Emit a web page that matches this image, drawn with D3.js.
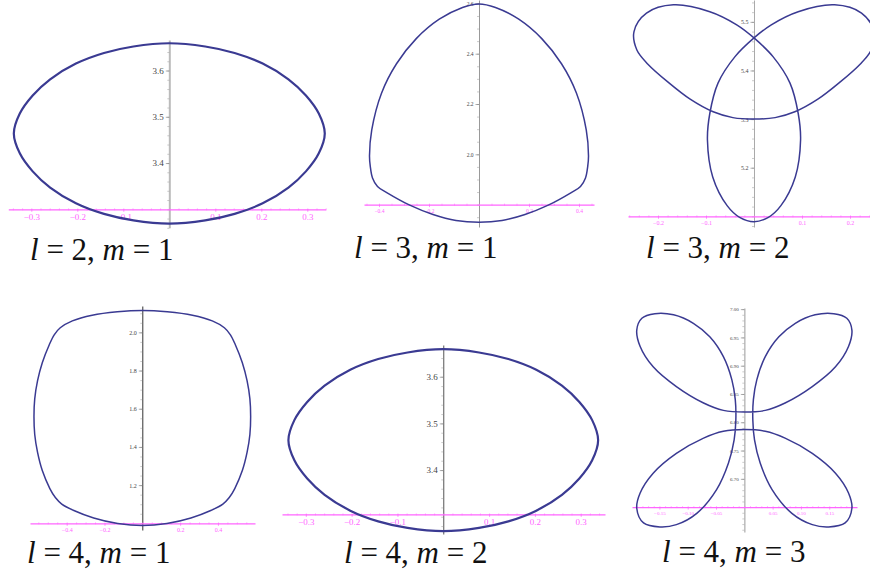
<!DOCTYPE html>
<meta charset="utf-8">
<script src="https://cdn.jsdelivr.net/npm/d3@7"></script>
<style>
  body { margin: 0; background: #fff; }
  text { font-family: "Liberation Serif", "Times New Roman", serif; }
</style>
<div id="chart"></div>
<script>
// curve points, [x, y]
const curveL2M1 = [[-0.338,3.464],[-0.325,3.507],[-0.297,3.546],[-0.259,3.581],[-0.203,3.615],[-0.142,3.638],[-0.078,3.652],[0,3.659],
  [0.078,3.652],[0.142,3.638],[0.203,3.615],[0.259,3.581],[0.297,3.546],[0.325,3.507],[0.338,3.464],
  [0.325,3.421],[0.297,3.382],[0.259,3.347],[0.203,3.313],[0.142,3.290],[0.078,3.276],[0,3.269],
  [-0.078,3.276],[-0.142,3.290],[-0.203,3.313],[-0.259,3.347],[-0.297,3.382],[-0.325,3.421]];

const curveL3M1 = [[0,2.598],[0.066,2.584],[0.159,2.537],[0.251,2.460],[0.330,2.360],[0.390,2.243],[0.429,2.097],[0.438,1.994],
  [0.435,1.953],[0.426,1.906],[0.406,1.872],[0.369,1.848],[0.277,1.798],[0.184,1.761],[0.092,1.737],[0,1.730],
  [-0.092,1.737],[-0.184,1.761],[-0.277,1.798],[-0.369,1.848],[-0.406,1.872],[-0.426,1.906],[-0.435,1.953],[-0.438,1.994],
  [-0.429,2.097],[-0.390,2.243],[-0.330,2.360],[-0.251,2.460],[-0.159,2.537],[-0.066,2.584]];

const curveL3M2 = [[-0.250,5.480],[-0.224,5.518],[-0.168,5.535],[-0.092,5.521],[-0.036,5.494],[0,5.467],[0.040,5.428],[0.075,5.374],
  [0.092,5.312],[0.097,5.257],[0.086,5.181],[0.056,5.122],[0.030,5.098],[0,5.089],[-0.030,5.098],[-0.056,5.122],[-0.086,5.181],
  [-0.097,5.257],[-0.092,5.312],[-0.075,5.374],[-0.040,5.428],[0,5.467],[0.036,5.494],[0.092,5.521],[0.168,5.535],[0.224,5.518],
  [0.250,5.480],[0.244,5.442],[0.221,5.413],[0.179,5.376],[0.133,5.341],[0.085,5.315],[0.044,5.303],[0,5.300],
  [-0.044,5.303],[-0.085,5.315],[-0.133,5.341],[-0.179,5.376],[-0.221,5.413],[-0.244,5.442]];

const curveL4M1 = [[0,2.115],[0.132,2.108],[0.265,2.090],[0.370,2.060],[0.434,2.024],[0.466,1.987],[0.492,1.935],[0.529,1.841],
  [0.554,1.747],[0.569,1.652],[0.573,1.559],[0.569,1.465],[0.554,1.371],[0.529,1.276],[0.489,1.182],[0.460,1.135],[0.426,1.101],
  [0.362,1.067],[0.257,1.028],[0.130,0.999],[0,0.988],
  [-0.130,0.999],[-0.257,1.028],[-0.362,1.067],[-0.426,1.101],[-0.460,1.135],[-0.489,1.182],[-0.529,1.276],[-0.554,1.371],
  [-0.569,1.465],[-0.573,1.559],[-0.569,1.652],[-0.554,1.747],[-0.529,1.841],[-0.492,1.935],[-0.466,1.987],[-0.434,2.024],
  [-0.370,2.060],[-0.265,2.090],[-0.132,2.108]];

const curveL4M3 = [[-0.190,6.963],[-0.181,6.984],[-0.158,6.992],[-0.125,6.990],[-0.090,6.975],[-0.061,6.951],[-0.037,6.916],
  [-0.022,6.875],[-0.016,6.840],[-0.015,6.804],[-0.018,6.769],[-0.028,6.728],[-0.049,6.681],[-0.084,6.639],[-0.120,6.619],
  [-0.149,6.615],[-0.178,6.622],[-0.190,6.648],[-0.184,6.675],[-0.161,6.710],[-0.120,6.745],[-0.072,6.772],[-0.037,6.784],
  [0,6.787],[0.037,6.784],[0.072,6.772],[0.120,6.745],[0.161,6.710],[0.184,6.675],[0.190,6.648],[0.178,6.622],[0.149,6.615],
  [0.120,6.619],[0.084,6.639],[0.049,6.681],[0.028,6.728],[0.018,6.769],[0.015,6.804],[0.016,6.840],[0.022,6.875],[0.037,6.916],
  [0.061,6.951],[0.090,6.975],[0.125,6.990],[0.158,6.992],[0.181,6.984],[0.190,6.963],[0.184,6.934],[0.161,6.898],[0.120,6.863],
  [0.072,6.834],[0.037,6.821],[0,6.818],[-0.037,6.821],[-0.072,6.834],[-0.120,6.863],[-0.161,6.898],[-0.184,6.934]];

// tick labels
const xTicksL2M1 = [-0.3, -0.2, -0.1, 0.1, 0.2, 0.3];
const yTicksL2M1 = [3.4, 3.5, 3.6];
const xTicksL3M1 = [-0.4, -0.2, 0.2, 0.4];
const yTicksL3M1 = [2.0, 2.2, 2.4, 2.6];
const xTicksL3M2 = [-0.2, -0.1, 0.1, 0.2];
const yTicksL3M2 = [5.2, 5.3, 5.4, 5.5];
const xTicksL4M1 = [-0.4, -0.2, 0.2, 0.4];
const yTicksL4M1 = [1.2, 1.4, 1.6, 1.8, 2.0];
const xTicksL4M3 = [-0.15, -0.10, -0.05, 0.05, 0.10, 0.15];
const yTicksL4M3 = [6.70, 6.75, 6.80, 6.85, 6.90, 6.95, 7.00];

const lValues = [2, 3, 3, 4, 4, 4];
const mValues = [1, 1, 2, 1, 2, 3];

// layout of the six panels
const panels = [
  {curve: curveL2M1, xt: xTicksL2M1, yt: yTicksL2M1, xDom: [-0.35, 0.34], xR: [8.3, 325.7], yDom: [3.26, 3.666], yR: [227.8, 40],
   axisY: 3.3, minor: [0.02, 0.02], fmt: ".1f", fs: 9, lw: 2.2, vCol: "#bbb", vW: 2, cap: [30, 259.7]},
  {curve: curveL3M1, xt: xTicksL3M1, yt: yTicksL3M1, xDom: [-0.46, 0.46], xR: [364, 594], yDom: [1.711, 2.6135], yR: [227, 0],
   axisY: 1.8, minor: [0.05, 0.05], fmt: ".1f", fs: 5.5, lw: 1.5, vCol: "#999", vW: 1, cap: [354, 258]},
  {curve: curveL3M2, xt: xTicksL3M2, yt: yTicksL3M2, xDom: [-0.2625, 0.2708], xR: [628, 884], yDom: [5.078, 5.545], yR: [227, 0],
   axisY: 5.1, minor: [0.02, 0.02], fmt: ".1f", fs: 6, lw: 1.5, vCol: "#aaa", vW: 1, cap: [646, 258]},
  {curve: curveL4M1, xt: xTicksL4M1, yt: yTicksL4M1, xDom: [-0.594, 0.596], xR: [30, 255], yDom: [0.965, 2.138], yR: [530, 306],
   axisY: 1.0, minor: [0.05, 0.05], fmt: ".1f", fs: 6, lw: 1.5, vCol: "#333", vW: 1, cap: [27, 563]},
  {curve: curveL2M1, xt: xTicksL2M1, yt: yTicksL2M1, xDom: [-0.352, 0.353], xR: [282, 605], yDom: [3.263, 3.668], yR: [534, 345],
   axisY: 3.305, minor: [0.02, 0.02], fmt: ".1f", fs: 9, lw: 2.2, vCol: "#555", vW: 1, cap: [344, 563]},
  {curve: curveL4M3, xt: xTicksL4M3, yt: yTicksL4M3, xDom: [-0.1984, 0.199], xR: [632, 857], yDom: [6.606, 7.002], yR: [532, 308],
   axisY: 6.65, minor: [0.01, 0.01], fmt: ".2f", fs: 5, lw: 1.5, vCol: "#bbb", vW: 1.5, cap: [662, 562]}
];

const svg = d3.select("#chart").append("svg")
  .attr("width", 870).attr("height", 575)
  .style("background", "#fff");

const minusFmt = f => v => d3.format(f)(v).replace("-", "\u2212");
const magenta = "#ff66ff";

panels.forEach(function (p, i) {
  const x = d3.scaleLinear().domain(p.xDom).range(p.xR);
  const y = d3.scaleLinear().domain(p.yDom).range(p.yR);
  const g = svg.append("g");

  // minor ticks
  const yMinor = d3.range(Math.ceil(p.yDom[0] / p.minor[1]), Math.floor(p.yDom[1] / p.minor[1]) + 1).map(k => k * p.minor[1]);
  const xMinor = d3.range(Math.ceil(p.xDom[0] / p.minor[0]), Math.floor(p.xDom[1] / p.minor[0]) + 1).map(k => k * p.minor[0]);

  const ya = g.append("g").attr("transform", "translate(" + x(0) + ",0)");
  ya.call(d3.axisLeft(y).tickValues(yMinor).tickSize(2).tickSizeOuter(0).tickFormat(""));
  ya.call(g2 => g2.selectAll("line").attr("stroke", "#999").attr("stroke-width", 0.5));
  ya.select(".domain").attr("stroke", p.vCol).attr("stroke-width", p.vW);

  const yb = g.append("g").attr("transform", "translate(" + x(0) + ",0)")
    .call(d3.axisLeft(y).tickValues(p.yt).tickSize(3.5).tickPadding(2).tickFormat(minusFmt(p.fmt)));
  yb.select(".domain").remove();
  yb.selectAll("line").attr("stroke", "#777").attr("stroke-width", 0.6);
  yb.selectAll("text").attr("font-size", p.fs).attr("fill", "#444")
    .attr("font-family", "'Liberation Serif', serif");

  const xa = g.append("g").attr("transform", "translate(0," + y(p.axisY) + ")");
  xa.call(d3.axisBottom(x).tickValues(xMinor).tickSize(2).tickSizeOuter(0).tickFormat(""));
  xa.selectAll("line").attr("stroke", magenta).attr("stroke-width", 0.5).attr("y1", -1).attr("y2", 1);
  xa.select(".domain").attr("stroke", magenta).attr("stroke-width", 1.2);

  const xb = g.append("g").attr("transform", "translate(0," + y(p.axisY) + ")")
    .call(d3.axisBottom(x).tickValues(p.xt).tickSize(2.5).tickPadding(2).tickFormat(minusFmt(p.fmt)));
  xb.select(".domain").remove();
  xb.selectAll("line").attr("stroke", magenta).attr("stroke-width", 0.7);
  xb.selectAll("text").attr("font-size", p.fs).attr("fill", magenta)
    .attr("font-family", "'Liberation Serif', serif");

  // the orbit
  const line = d3.line().x(d => x(d[0])).y(d => y(d[1])).curve(d3.curveCatmullRomClosed.alpha(0.5));
  g.append("path").datum(p.curve)
    .attr("d", line)
    .attr("fill", "none")
    .attr("stroke", "#3a3a92")
    .attr("stroke-width", p.lw)
    .attr("stroke-linejoin", "round");

  // caption
  const t = svg.append("text").attr("x", p.cap[0]).attr("y", p.cap[1])
    .attr("font-size", 31).attr("fill", "#111");
  t.append("tspan").attr("font-style", "italic").text("l");
  t.append("tspan").text(" = " + lValues[i] + ", ");
  t.append("tspan").attr("font-style", "italic").text("m");
  t.append("tspan").text(" = " + mValues[i]);
});
</script>
